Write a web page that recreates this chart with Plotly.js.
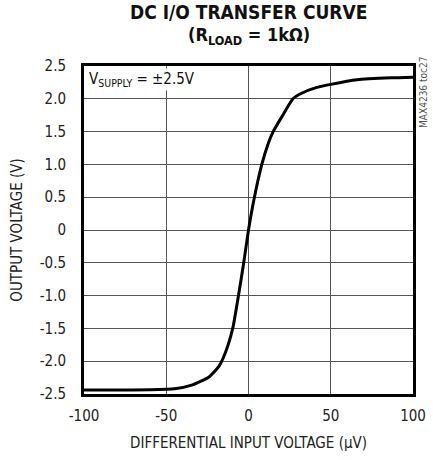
<!DOCTYPE html>
<html><head><meta charset="utf-8">
<script src="https://cdn.plot.ly/plotly-3.0.1.min.js"></script>
<style>html,body{margin:0;padding:0;background:#fff}#c{width:433px;height:460px}</style>
</head><body><div id="c"></div>
<script>
const inputUV = [-100, -80, -60, -45, -34, -24, -18, -14.2, -9.6, -6.1, -2.9, 0, 3.6, 8.1, 12, 15, 20.6, 27, 31, 41, 50, 66, 87, 100];
const outputV = [-2.44, -2.44, -2.435, -2.42, -2.36, -2.24, -2.08, -1.88, -1.5, -1.0, -0.5, 0, 0.5, 1.0, 1.32, 1.5, 1.74, 2.0, 2.07, 2.17, 2.22, 2.29, 2.32, 2.33];
const yTickVals = [-2.5, -2, -1.5, -1, -0.5, 0, 0.5, 1, 1.5, 2, 2.5];
const yTickText = ["-2.5", "-2.0", "-1.5", "-1.0", "-0.5", "0", "0.5", "1.0", "1.5", "2.0", "2.5"];
const xTickVals = [-100, -50, 0, 50, 100];
const xTickText = ["-100", "-50", "0", "50", "100"];

const F = "'DejaVu Sans Condensed', 'Liberation Sans Narrow', 'Arial Narrow', sans-serif";

Plotly.newPlot('c', [{
  x: inputUV, y: outputV, type: 'scatter', mode: 'lines',
  line: {color: '#000', width: 3, shape: 'spline', smoothing: 0.5},
  hoverinfo: 'skip'
}], {
  width: 433, height: 460,
  margin: {l: 84, r: 20, t: 66, b: 66},
  paper_bgcolor: '#fff', plot_bgcolor: '#fff',
  showlegend: false,
  font: {family: F, color: '#222', size: 14},
  xaxis: {range: [-100, 100], tickvals: xTickVals, ticktext: xTickText,
          showgrid: true, gridcolor: '#555', gridwidth: 1, zeroline: false,
          showline: true, linecolor: '#000', linewidth: 3, mirror: true,
          ticks: 'outside', ticklen: 6, tickcolor: 'rgba(0,0,0,0)',
          tickfont: {family: F, size: 15, color: '#222'},
          title: {text: 'DIFFERENTIAL INPUT VOLTAGE (µV)', font: {family: F, size: 15, color: '#222'}, standoff: 14},
          fixedrange: true},
  yaxis: {range: [-2.5, 2.5], tickvals: yTickVals, ticktext: yTickText,
          showgrid: true, gridcolor: '#555', gridwidth: 1, zeroline: false,
          showline: true, linecolor: '#000', linewidth: 3, mirror: true,
          ticks: 'outside', ticklen: 12, tickcolor: 'rgba(0,0,0,0)',
          tickfont: {family: F, size: 15, color: '#222'},
          title: {text: 'OUTPUT VOLTAGE (V)', font: {family: F, size: 15, color: '#222'}, standoff: 14},
          fixedrange: true},
  annotations: [
    {text: '<b>DC I/O TRANSFER CURVE</b>', xref: 'paper', yref: 'paper', x: 0.5, y: 1.165,
     xanchor: 'center', yanchor: 'middle', showarrow: false, font: {family: F, size: 19, color: '#111'}},
    {text: '<b>(R<sub>LOAD</sub> = 1kΩ)</b>', xref: 'paper', yref: 'paper', x: 0.5, y: 1.09,
     xanchor: 'center', yanchor: 'middle', showarrow: false, font: {family: F, size: 18, color: '#111'}},
    {text: 'V<sub>SUPPLY</sub> = ±2.5V', xref: 'paper', yref: 'paper', x: 0.01, y: 0.995,
     xanchor: 'left', yanchor: 'top', showarrow: false, font: {family: F, size: 15, color: '#111'},
     bgcolor: '#fff'},
    {text: 'MAX4236 toc27', xref: 'paper', yref: 'paper', x: 1.03, y: 1.035,
     xanchor: 'center', yanchor: 'top', textangle: -90, showarrow: false,
     font: {family: F, size: 10, color: '#555'}}
  ]
}, {displayModeBar: false, staticPlot: true});
</script></body></html>
